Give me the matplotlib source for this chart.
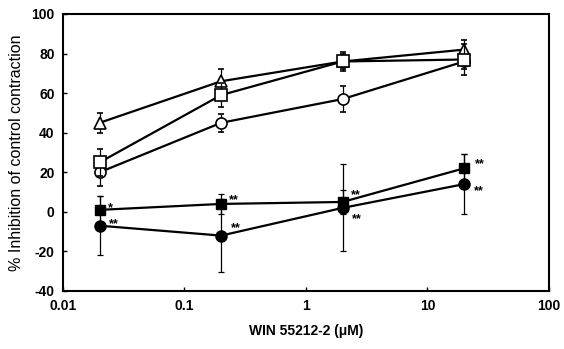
import matplotlib
matplotlib.use("Agg")
import matplotlib.pyplot as plt

conc = [0.02, 0.2, 2, 20]

tri_open = [45, 66, 76, 82]
tri_open_err = [5, 6, 4, 5]
sq_open = [25, 59, 76, 77]
sq_open_err = [7, 6, 5, 8]
circ_open = [20, 45, 57, 76]
circ_open_err = [7, 4.5, 6.5, 4]
sq_filled = [1, 4, 5, 22]
sq_filled_err = [7, 5, 6, 7]
circ_filled = [-7, -12, 2, 14]
circ_filled_err = [15, 18.5, 22, 15]

sq_filled_stars = ["*", "**", "**", "**"]
circ_filled_stars = ["**", "**", "**", "**"]

xticks = [0.01, 0.1, 1, 10, 100]
xticklabels = ["0.01", "0.1", "1", "10", "100"]
yticks = [-40, -20, 0, 20, 40, 60, 80, 100]

plt.rcParams['font.family'] = ['Liberation Sans', 'DejaVu Sans']
plt.rcParams['axes.unicode_minus'] = False

fig = plt.figure(figsize=(5.64, 3.49), dpi=100)
ax = fig.add_axes([0.1117, 0.1662, 0.8617, 0.7937])

common = dict(color='black', linewidth=1.6, capsize=2.5, elinewidth=0.9, capthick=0.9)

ax.errorbar(conc, circ_filled, yerr=circ_filled_err, fmt='-o', markersize=8,
            markerfacecolor='black', markeredgecolor='black', zorder=3, **common)
ax.errorbar(conc, sq_filled, yerr=sq_filled_err, fmt='-s', markersize=7.5,
            markerfacecolor='black', markeredgecolor='black', zorder=3, **common)
ax.errorbar(conc, circ_open, yerr=circ_open_err, fmt='-o', markersize=8,
            markerfacecolor='white', markeredgecolor='black', markeredgewidth=1.2, zorder=4, **common)
ax.errorbar(conc, tri_open, yerr=tri_open_err, fmt='-^', markersize=8.5,
            markerfacecolor='white', markeredgecolor='black', markeredgewidth=1.2, zorder=5, **common)
ax.errorbar(conc, sq_open, yerr=sq_open_err, fmt='-s', markersize=8,
            markerfacecolor='white', markeredgecolor='black', markeredgewidth=1.2, zorder=6, **common)

sq_offsets = [(6, 1), (6, 3), (6, 5), (8, 3)]
circ_offsets = [(7, 1), (7, 5), (7, -8), (7, -5)]
for x, y, s, off in zip(conc, sq_filled, sq_filled_stars, sq_offsets):
    ax.annotate(s, (x, y), xytext=off, textcoords='offset points', fontsize=9,
                fontweight='bold', ha='left', va='center')
for x, y, s, off in zip(conc, circ_filled, circ_filled_stars, circ_offsets):
    ax.annotate(s, (x, y), xytext=off, textcoords='offset points', fontsize=9,
                fontweight='bold', ha='left', va='center')

ax.set_xscale('log')
ax.set_xlim(0.01, 100)
ax.set_ylim(-40, 100)
ax.set_xticks(xticks)
ax.set_xticklabels(xticklabels)
ax.minorticks_off()
ax.set_yticks(yticks)
ax.tick_params(direction='in', length=3, width=1, labelsize=10, pad=6)
for lab in ax.get_xticklabels() + ax.get_yticklabels():
    lab.set_fontweight('bold')
for sp in ax.spines.values():
    sp.set_linewidth(1.5)

ax.set_xlabel("WIN 55212-2 (\u03bcM)", fontsize=10, fontweight='bold', labelpad=8)
ax.set_ylabel("% Inhibition of control contraction", fontsize=11.5, labelpad=5)

fig.savefig("out.png", dpi=100)
